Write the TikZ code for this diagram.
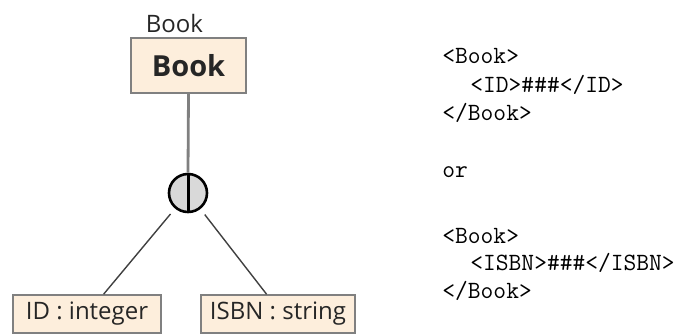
\documentclass[tikz,border=0pt]{standalone}
\usepackage{fontspec}
\setmainfont{Open Sans}
\usetikzlibrary{positioning}
\definecolor{boxfill}{RGB}{253,238,220}
\definecolor{boxline}{RGB}{128,128,128}
\definecolor{choicefill}{RGB}{217,217,217}

\begin{document}
\begin{tikzpicture}[x=0.5pt, y=-0.5pt,
  typebox/.style={draw=boxline, line width=0.75pt, fill=boxfill, inner sep=0pt, text=black!85},
  xmlline/.style={anchor=base west, inner sep=0pt, font=\fontsize{12.4}{14}\ttfamily}]

\useasboundingbox (0,0) rectangle (697,334);

% element and its choice group
\node[typebox, minimum width=57.5pt, minimum height=27.5pt, font=\fontsize{14.5}{16}\selectfont\bfseries] (book) at (188.5,65.5) {Book};
\node[anchor=base, inner sep=0pt, text=black!85, font=\fontsize{12}{14}\selectfont] (booklabel) at (174.5,32) {Book};
\node[circle, draw=black, line width=1.3pt, fill=choicefill, minimum size=19pt, inner sep=0pt] (choice) at (188,193) {};
\draw[boxline, line width=1.4pt] (book.south) -- (choice.north);
\draw[black, line width=1.5pt] (choice.north) -- (choice.south);

% the two choices
\node[typebox, minimum width=74pt, minimum height=19pt, font=\fontsize{12}{14}\selectfont] (id) at (87,314) {ID : integer};
\node[typebox, minimum width=77pt, minimum height=19pt, font=\fontsize{12}{14}\selectfont] (isbn) at (278,314) {ISBN : string};
\draw[black!75, line width=0.7pt, shorten <=3.5pt] (choice) -- (id.50);
\draw[black!75, line width=0.7pt, shorten <=3.5pt] (choice) -- (isbn.120);

% instance examples
\node[xmlline] (xmla) at (442,63) {<Book>};
\node[xmlline] (xmlb) at (470,92) {<ID>\#\#\#</ID>};
\node[xmlline] (xmlc) at (442,120) {</Book>};
\node[xmlline] (xmlor) at (442,177) {or};
\node[xmlline] (xmld) at (442,243) {<Book>};
\node[xmlline] (xmle) at (470,270) {<ISBN>\#\#\#</ISBN>};
\node[xmlline] (xmlf) at (442,298) {</Book>};

\end{tikzpicture}
\end{document}
